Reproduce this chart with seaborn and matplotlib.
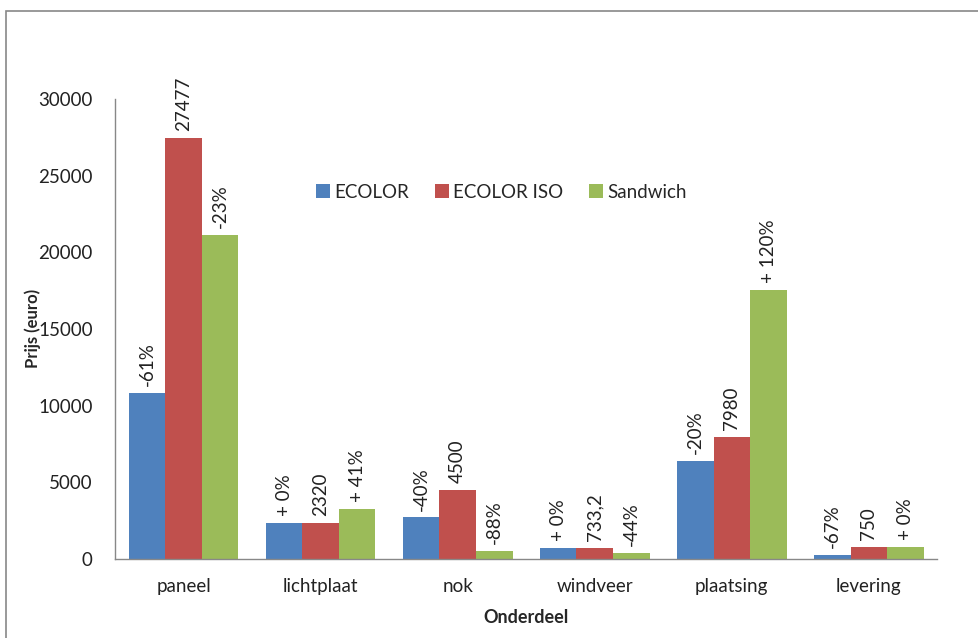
import numpy as np
import pandas as pd
import seaborn as sns
import matplotlib.pyplot as plt
from matplotlib.patches import Rectangle

categories = ["paneel", "lichtplaat", "nok", "windveer", "plaatsing", "levering"]
series = ["ECOLOR", "ECOLOR ISO", "Sandwich"]
ecolor = [10850, 2320, 2700, 733.2, 6384, 248]
ecolor_iso = [27477, 2320, 4500, 733.2, 7980, 750]
sandwich = [21130, 3270, 540, 410, 17556, 750]
labels_ecolor = ["-61%", "+ 0%", "-40%", "+ 0%", "-20%", "-67%"]
labels_iso = ["27477", "2320", "4500", "733,2", "7980", "750"]
labels_sandwich = ["-23%", "+ 41%", "-88%", "-44%", "+ 120%", "+ 0%"]
colors = ["#4F81BD", "#C0504D", "#9BBB59"]

df = pd.DataFrame({
    "Onderdeel": categories * 3,
    "serie": np.repeat(series, len(categories)),
    "prijs": ecolor + ecolor_iso + sandwich,
})

sns.set_theme(style="white")
plt.rcParams["font.family"] = ["Lato", "DejaVu Sans"]

fig = plt.figure(figsize=(9.79, 6.38), dpi=100)
ax = fig.add_axes([0.1175, 0.124, 0.84, 0.721])

sns.barplot(data=df, x="Onderdeel", y="prijs", hue="serie", palette=colors,
            width=0.8, saturation=1, linewidth=0, ax=ax, legend=True)

ax.set_ylim(0, 30000)
ax.set_yticks(range(0, 30001, 5000))
ax.tick_params(axis="both", length=0, labelsize=13.5, colors="#222222")
ax.tick_params(axis="y", pad=16)
ax.tick_params(axis="x", pad=14)
for s in ["top", "right"]:
    ax.spines[s].set_visible(False)
for s in ["left", "bottom"]:
    ax.spines[s].set_color("#888888")
    ax.spines[s].set_linewidth(1)

ax.set_xlabel("Onderdeel", fontsize=13, fontweight="bold", labelpad=10)
ax.set_ylabel("Prijs (euro)", fontsize=12, fontweight="bold", labelpad=-2)

all_labels = [labels_ecolor, labels_iso, labels_sandwich]
for cont, labs in zip(ax.containers, all_labels):
    for bar, lab in zip(cont, labs):
        x = bar.get_x() + bar.get_width() / 2
        ax.annotate(lab, (x, bar.get_height()), xytext=(0, 5),
                    textcoords="offset points", rotation=90,
                    ha="center", va="bottom", fontsize=13.5, color="#222222")

ax.legend(loc="center", bbox_to_anchor=(0.47, 0.797), ncol=3, frameon=False,
          fontsize=13.5, handlelength=0.75, handleheight=0.75,
          handletextpad=0.2, columnspacing=1.4)

# chart area border like the Excel frame
fig.patches.append(Rectangle((6 / 979, -0.1), 1.2, 1.1 - 11 / 638,
                             transform=fig.transFigure, fill=False,
                             edgecolor="#888888", linewidth=1.2))

fig.savefig("out.png", dpi=100)
